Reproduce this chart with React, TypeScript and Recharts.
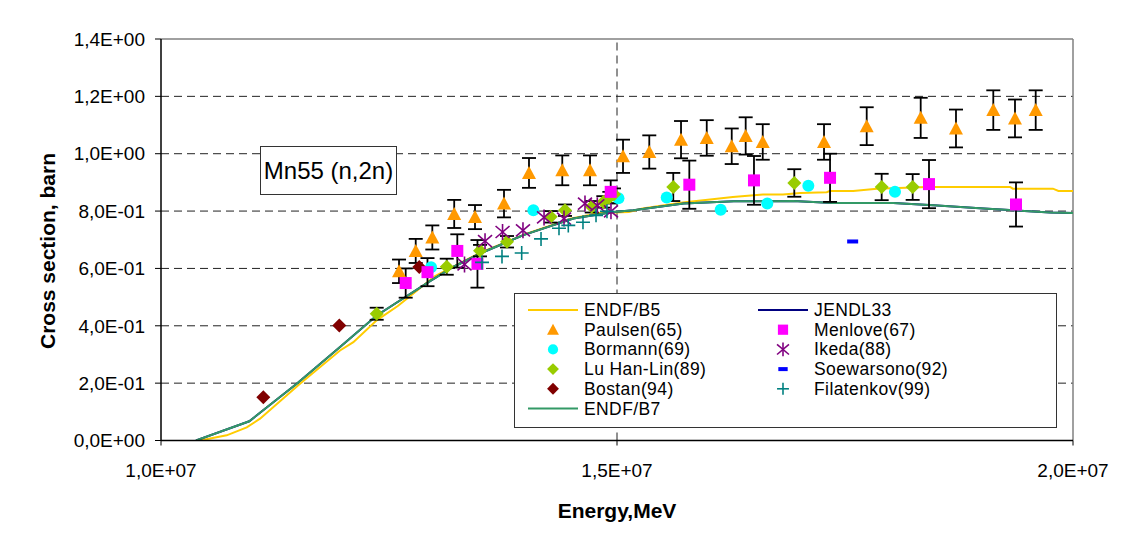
import { ComposedChart, Line, Scatter, XAxis, YAxis, ReferenceLine, ErrorBar } from "recharts";

const FONT = '"Liberation Sans", Arial, sans-serif';

const xTicks = [1e7, 1.5e7, 2e7];
const yTicks = [0, 0.2, 0.4, 0.6, 0.8, 1.0, 1.2, 1.4];
const yGrid = [0.2, 0.4, 0.6, 0.8, 1.0, 1.2];

// evaluated curves [E, sigma]
const endfB5 = [
  [1.0428e7, 0], [1.072e7, 0.018], [1.094e7, 0.046], [1.1086e7, 0.076], [1.1524e7, 0.198],
  [1.1963e7, 0.314], [1.2109e7, 0.343], [1.2365e7, 0.419], [1.26e7, 0.47], [1.3e7, 0.572],
  [1.35e7, 0.655], [1.4e7, 0.72], [1.45e7, 0.774], [1.481e7, 0.793], [1.513e7, 0.797],
  [1.528e7, 0.809], [1.572e7, 0.83], [1.627e7, 0.849], [1.66e7, 0.858], [1.682e7, 0.858],
  [1.701e7, 0.863], [1.73e7, 0.866], [1.733e7, 0.87], [1.759e7, 0.87], [1.785e7, 0.878],
  [1.84e7, 0.884], [1.931e7, 0.884], [1.934e7, 0.878], [1.978e7, 0.878], [1.984e7, 0.87], [2.0e7, 0.87],
];
const endfB7 = [
  [1.0384e7, 0], [1.0968e7, 0.067], [1.1488e7, 0.198], [1.1963e7, 0.326], [1.2365e7, 0.436],
  [1.295e7, 0.556], [1.3205e7, 0.605], [1.3498e7, 0.652], [1.3973e7, 0.716], [1.4521e7, 0.774],
  [1.496e7, 0.797], [1.518e7, 0.803], [1.573e7, 0.826], [1.628e7, 0.834], [1.693e7, 0.835],
  [1.737e7, 0.828], [1.803e7, 0.828], [1.847e7, 0.82], [1.902e7, 0.809], [1.975e7, 0.795], [2.0e7, 0.793],
];
const jendl33 = endfB7.map(([e, s]) => [e, s]);

// measurements [E, sigma, err]
const paulsen = [
  [1.261e7, 0.59, 0.041], [1.2793e7, 0.661, 0.042], [1.2975e7, 0.708, 0.042], [1.3215e7, 0.79, 0.049],
  [1.3443e7, 0.779, 0.042], [1.3761e7, 0.826, 0.048], [1.4035e7, 0.933, 0.052], [1.44e7, 0.942, 0.052],
  [1.4704e7, 0.942, 0.052], [1.5066e7, 0.991, 0.058], [1.5354e7, 1.006, 0.058], [1.5702e7, 1.049, 0.065],
  [1.5984e7, 1.055, 0.062], [1.6258e7, 1.026, 0.062], [1.6411e7, 1.062, 0.065], [1.6598e7, 1.041, 0.062],
  [1.727e7, 1.041, 0.062], [1.7738e7, 1.096, 0.066], [1.833e7, 1.125, 0.07], [1.8717e7, 1.088, 0.066],
  [1.9126e7, 1.152, 0.069], [1.9364e7, 1.123, 0.066], [1.9591e7, 1.152, 0.069],
];
const menlove = [
  [1.2683e7, 0.549, 0.051], [1.2922e7, 0.587, 0.049], [1.3249e7, 0.661, 0.058], [1.347e7, 0.616, 0.083],
  [1.4931e7, 0.867, 0.04], [1.5793e7, 0.892, 0.084], [1.6502e7, 0.907, 0.085], [1.7336e7, 0.916, 0.084],
  [1.8421e7, 0.894, 0.084], [1.9375e7, 0.823, 0.077],
];
const bormann = [
  [1.2961e7, 0.604], [1.4083e7, 0.803], [1.5016e7, 0.845], [1.5545e7, 0.847],
  [1.6137e7, 0.805], [1.6648e7, 0.826], [1.7098e7, 0.888], [1.8048e7, 0.867],
];
const ikeda = [
  [1.3328e7, 0.614], [1.3553e7, 0.695], [1.3745e7, 0.727], [1.3969e7, 0.733], [1.42e7, 0.778],
  [1.4419e7, 0.774], [1.4649e7, 0.826], [1.4784e7, 0.82], [1.4934e7, 0.799],
];
const luHanLin = [
  [1.2365e7, 0.442, 0.021], [1.3133e7, 0.606, 0.028], [1.3498e7, 0.662, 0.02], [1.3794e7, 0.693, 0.02],
  [1.4273e7, 0.78, 0.02], [1.443e7, 0.803, 0.02], [1.4723e7, 0.815, 0.02], [1.485e7, 0.832, 0.02],
  [1.4916e7, 0.847, 0.02], [1.4967e7, 0.859, 0.02], [1.5617e7, 0.884, 0.049], [1.6944e7, 0.898, 0.048],
  [1.7902e7, 0.884, 0.046], [1.8242e7, 0.884, 0.045],
];
const soewarsono = [[1.7584e7, 0.694]];
const bostan = [[1.1122e7, 0.151], [1.1955e7, 0.401], [1.2832e7, 0.605]];
const filatenkov = [
  [1.352e7, 0.621], [1.3739e7, 0.642], [1.3955e7, 0.654], [1.4167e7, 0.703], [1.4364e7, 0.74],
  [1.4466e7, 0.75], [1.4627e7, 0.761], [1.477e7, 0.785], [1.489e7, 0.799],
];

const toPts = (rows: number[][]) => rows.map(([x, y, err]) => ({ x, y, err: err ?? 0 }));

const fmtSci = (v: number) => {
  if (v === 0) return "0,0E+00";
  const e = Math.floor(Math.log10(Math.abs(v)) + 1e-9);
  const m = v / Math.pow(10, e);
  return m.toFixed(1).replace(".", ",") + "E" + (e < 0 ? "-" : "+") + String(Math.abs(e)).padStart(2, "0");
};

type Kind = "triangle" | "circle" | "diamond" | "square" | "star" | "dash" | "plus" | "line";

function Marker({ kind, color, cx, cy, s = 1 }: { kind: Kind; color: string; cx: number; cy: number; s?: number }) {
  if (kind === "triangle")
    return <polygon points={`${cx},${cy - 7 * s} ${cx + 7 * s},${cy + 6 * s} ${cx - 7 * s},${cy + 6 * s}`} fill={color} />;
  if (kind === "circle") return <circle cx={cx} cy={cy} r={6 * s} fill={color} />;
  if (kind === "diamond")
    return <polygon points={`${cx},${cy - 7 * s} ${cx + 7 * s},${cy} ${cx},${cy + 7 * s} ${cx - 7 * s},${cy}`} fill={color} />;
  if (kind === "square") return <rect x={cx - 6 * s} y={cy - 6 * s} width={12 * s} height={12 * s} fill={color} />;
  if (kind === "dash") return <rect x={cx - 5.5 * s} y={cy - 2} width={11 * s} height={4} fill={color} />;
  if (kind === "plus")
    return (
      <g stroke={color} strokeWidth={1.6}>
        <line x1={cx - 7 * s} y1={cy} x2={cx + 7 * s} y2={cy} />
        <line x1={cx} y1={cy - 7 * s} x2={cx} y2={cy + 7 * s} />
      </g>
    );
  if (kind === "star")
    return (
      <g stroke={color} strokeWidth={1.6}>
        <line x1={cx} y1={cy - 8 * s} x2={cx} y2={cy + 8 * s} />
        <line x1={cx - 7 * s} y1={cy - 6 * s} x2={cx + 7 * s} y2={cy + 6 * s} />
        <line x1={cx - 7 * s} y1={cy + 6 * s} x2={cx + 7 * s} y2={cy - 6 * s} />
      </g>
    );
  return null;
}

const scatterSeries = [
  { name: "Paulsen(65)", rows: paulsen, kind: "triangle" as Kind, color: "#FF9900", bars: true },
  { name: "Bormann(69)", rows: bormann, kind: "circle" as Kind, color: "#00FFFF", bars: false },
  { name: "Lu Han-Lin(89)", rows: luHanLin, kind: "diamond" as Kind, color: "#99CC00", bars: true },
  { name: "Bostan(94)", rows: bostan, kind: "diamond" as Kind, color: "#800000", bars: false },
  { name: "Menlove(67)", rows: menlove, kind: "square" as Kind, color: "#FF00FF", bars: true },
  { name: "Ikeda(88)", rows: ikeda, kind: "star" as Kind, color: "#800080", bars: false },
  { name: "Soewarsono(92)", rows: soewarsono, kind: "dash" as Kind, color: "#0000FF", bars: false },
  { name: "Filatenkov(99)", rows: filatenkov, kind: "plus" as Kind, color: "#008080", bars: false },
];

const legendCol1 = [
  { name: "ENDF/B5", kind: "line" as Kind, color: "#FFCC00" },
  { name: "Paulsen(65)", kind: "triangle" as Kind, color: "#FF9900" },
  { name: "Bormann(69)", kind: "circle" as Kind, color: "#00FFFF" },
  { name: "Lu Han-Lin(89)", kind: "diamond" as Kind, color: "#99CC00" },
  { name: "Bostan(94)", kind: "diamond" as Kind, color: "#800000" },
  { name: "ENDF/B7", kind: "line" as Kind, color: "#339966" },
];
const legendCol2 = [
  { name: "JENDL33", kind: "line" as Kind, color: "#000080" },
  { name: "Menlove(67)", kind: "square" as Kind, color: "#FF00FF" },
  { name: "Ikeda(88)", kind: "star" as Kind, color: "#800080" },
  { name: "Soewarsono(92)", kind: "dash" as Kind, color: "#0000FF" },
  { name: "Filatenkov(99)", kind: "plus" as Kind, color: "#008080" },
];

function LegendColumn({ items, x }: { items: typeof legendCol1; x: number }) {
  return (
    <>
      {items.map((it, i) => {
        const cy = 16 + i * 19.7;
        return (
          <g key={it.name}>
            {it.kind === "line" ? (
              <line x1={x - 25} y1={cy} x2={x + 25} y2={cy} stroke={it.color} strokeWidth={2} />
            ) : (
              <Marker kind={it.kind} color={it.color} cx={x} cy={cy} s={0.85} />
            )}
            <text x={x + 31} y={cy} dominantBaseline="central" fontSize={17.5} letterSpacing={0.4} fontFamily={FONT} fill="#000">
              {it.name}
            </text>
          </g>
        );
      })}
    </>
  );
}

export default function App() {
  return (
    <div
      style={{
        position: "relative",
        width: 1131,
        height: 535,
        marginLeft: -1,
        marginTop: -1,
        borderLeft: "1px solid #000",
        borderTop: "1px solid #000",
        fontFamily: FONT,
      }}
    >
      <ComposedChart width={1131} height={535} margin={{ top: 31, right: 66, bottom: 0, left: 0 }}>
        <XAxis
          type="number"
          dataKey="x"
          domain={[1e7, 2e7]}
          ticks={xTicks}
          interval={0}
          allowDataOverflow
          height={102.5}
          tickFormatter={fmtSci}
          tickSize={5}
          tickMargin={18}
          axisLine={{ stroke: "#000", strokeWidth: 1.5 }}
          tickLine={{ stroke: "#000" }}
          tick={{ fill: "#000", fontSize: 19, fontFamily: FONT }}
          label={{
            content: () => (
              <text x={609} y={502} textAnchor="middle" dominantBaseline="central" fontSize={21} fontWeight="bold" fontFamily={FONT} fill="#000">
                Energy,MeV
              </text>
            ),
          }}
        />
        <YAxis
          type="number"
          dataKey="y"
          domain={[0, 1.4]}
          ticks={yTicks}
          interval={0}
          allowDataOverflow
          width={153}
          tickFormatter={fmtSci}
          tickSize={6}
          tickMargin={10}
          axisLine={{ stroke: "#000", strokeWidth: 1.5 }}
          tickLine={{ stroke: "#000" }}
          tick={{ fill: "#000", fontSize: 19, fontFamily: FONT }}
          label={{
            content: () => (
              <text x={39} y={243} transform="rotate(-90 39 243)" textAnchor="middle" dominantBaseline="central" fontSize={21} fontWeight="bold" fontFamily={FONT} fill="#000">
                Cross section, barn
              </text>
            ),
          }}
        />
        {yGrid.map((v) => (
          <ReferenceLine key={v} y={v} stroke="#222" strokeDasharray="8 5" />
        ))}
        <ReferenceLine x={1.5e7} stroke="#222" strokeDasharray="8 5" />
        <ReferenceLine y={1.4} stroke="#808080" strokeWidth={1.5} />
        <ReferenceLine x={2e7} stroke="#808080" strokeWidth={1.5} />

        <Line data={toPts(endfB5)} dataKey="y" stroke="#FFCC00" strokeWidth={2} dot={false} activeDot={false} isAnimationActive={false} type="linear" />
        <Line data={toPts(jendl33)} dataKey="y" stroke="#000080" strokeWidth={2} dot={false} activeDot={false} isAnimationActive={false} type="linear" />
        <Line data={toPts(endfB7)} dataKey="y" stroke="#339966" strokeWidth={2} dot={false} activeDot={false} isAnimationActive={false} type="linear" />

        {scatterSeries.map((s) => (
          <Scatter
            key={s.name}
            name={s.name}
            data={toPts(s.rows)}
            dataKey="y"
            isAnimationActive={false}
            shape={(p: any) => <Marker kind={s.kind} color={s.color} cx={p.cx} cy={p.cy} />}
          >
            {s.bars && <ErrorBar dataKey="err" direction="y" width={7} stroke="#000" strokeWidth={1.8} />}
          </Scatter>
        ))}
      </ComposedChart>

      <div
        style={{
          position: "absolute",
          left: 252,
          top: 138,
          width: 135,
          height: 47,
          border: "1px solid #333",
          background: "#fff",
          display: "flex",
          alignItems: "center",
          justifyContent: "center",
          fontSize: 24,
          color: "#000",
        }}
      >
        Mn55 (n,2n)
      </div>

      <svg
        width={543}
        height={135}
        style={{ position: "absolute", left: 506, top: 285, background: "#fff", border: "1px solid #333", boxSizing: "border-box" }}
      >
        <LegendColumn items={legendCol1} x={38} />
        <LegendColumn items={legendCol2} x={268} />
      </svg>
    </div>
  );
}
